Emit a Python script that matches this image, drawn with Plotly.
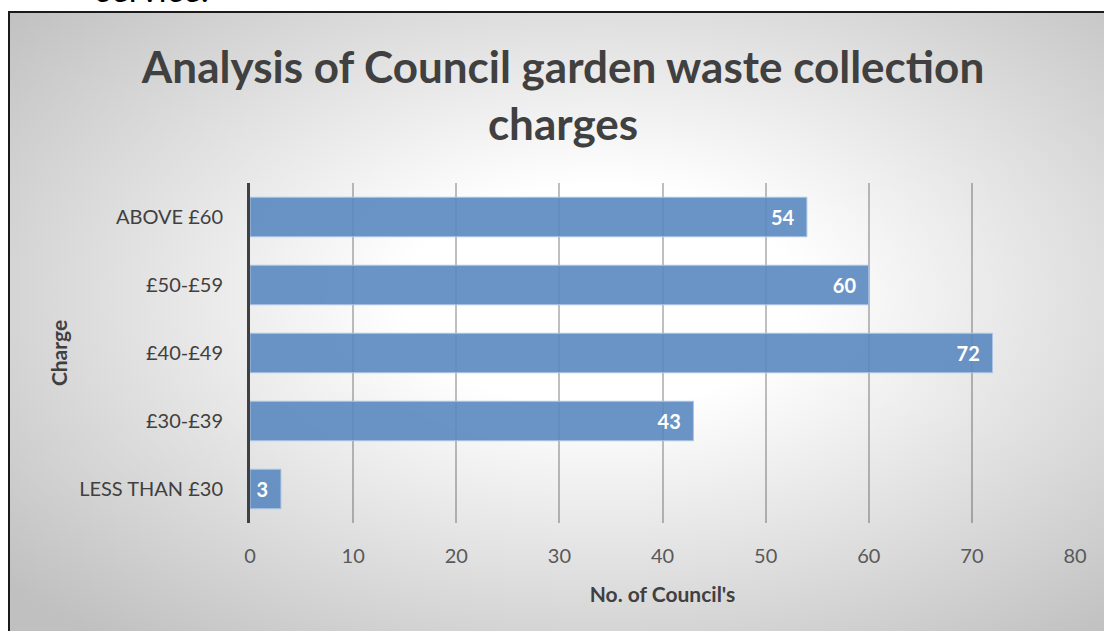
import base64
import plotly.graph_objects as go

# ---- data ----
categories = ["LESS THAN £30", "£30-£39", "£40-£49", "£50-£59", "ABOVE £60"]
councils = [3, 43, 72, 60, 54]
x_ticks = [0, 10, 20, 30, 40, 50, 60, 70, 80]

title_text = "Analysis of Council garden waste collection<br>charges"
x_title = "No. of Council's"
y_title = "Charge"

# ---- geometry (pixels) ----
W, H = 1104, 631
ML, MR, MT, MB = 250, 29, 183, 108
PW, PH = W - ML - MR, H - MT - MB


def px_x(p):
    return (p - ML) / PW


def px_y(p):
    return (H - MB - p) / PH


FONT = "Lato, 'Open Sans', sans-serif"

# radial gradient background (chart area)
box_l, box_t, box_r, box_b = 9, 12, 1125, 645
svg = f"""<svg xmlns='http://www.w3.org/2000/svg' width='{box_r-box_l}' height='{box_b-box_t}' preserveAspectRatio='none'>
<defs><radialGradient id='g' cx='0.53' cy='0.45' r='0.7' fx='0.53' fy='0.45'>
<stop offset='0' stop-color='#ffffff'/>
<stop offset='0.25' stop-color='#ffffff'/>
<stop offset='1' stop-color='#c0c0c0'/>
</radialGradient></defs>
<rect width='100%' height='100%' fill='url(#g)'/></svg>"""
src = "data:image/svg+xml;base64," + base64.b64encode(svg.encode()).decode()

fig = go.Figure()
fig.add_trace(go.Bar(
    y=categories,
    x=councils,
    orientation="h",
    marker=dict(color="rgba(91,136,192,0.9)",
                line=dict(color="rgba(170,195,228,1)", width=1)),
    texttemplate="%{x}\u00a0\u00a0",
    textposition="inside",
    insidetextanchor="end",
    textangle=0,
    textfont=dict(family=FONT, size=20, color="white", weight="bold"),
    hoverinfo="skip",
))

fig.update_layout(
    width=W, height=H,
    margin=dict(l=ML, r=MR, t=MT, b=MB, autoexpand=False),
    paper_bgcolor="white",
    plot_bgcolor="rgba(0,0,0,0)",
    bargap=0.42,
    showlegend=False,
    font=dict(family=FONT, color="#404040"),
    title=dict(
        text=title_text,
        x=px_x(563), xref="paper", xanchor="center",
        y=1 - 83 / H, yref="container", yanchor="middle",
        font=dict(family=FONT, size=44, color="#404040", weight="bold"),
    ),
    xaxis=dict(
        range=[0, 80], tickvals=x_ticks, showgrid=True,
        gridcolor="rgba(0,0,0,0.25)", gridwidth=1.5, zeroline=False,
        showline=False, ticks="", ticklabelstandoff=19,
        tickfont=dict(family=FONT, size=20, color="#595959"),
        title=dict(text=x_title, standoff=21,
                   font=dict(family=FONT, size=21, color="#404040", weight="bold")),
        fixedrange=True,
    ),
    yaxis=dict(
        categoryorder="array", categoryarray=categories,
        showline=True, linecolor="#404040", linewidth=3,
        showgrid=False, ticks="", ticklabelstandoff=20,
        tickfont=dict(family=FONT, size=20, color="#404040"),
        title=dict(text=y_title, standoff=6,
                   font=dict(family=FONT, size=21, color="#404040", weight="bold")),
        fixedrange=True,
    ),
    images=[dict(
        source=src, xref="paper", yref="paper",
        x=px_x(box_l), y=px_y(box_t),
        sizex=(box_r - box_l) / PW, sizey=(box_b - box_t) / PH,
        xanchor="left", yanchor="top", sizing="stretch", layer="below",
    )],
    shapes=[dict(
        type="rect", xref="paper", yref="paper",
        x0=px_x(box_l), x1=px_x(box_r), y0=px_y(box_b), y1=px_y(box_t),
        line=dict(color="#1a1a1a", width=2), fillcolor="rgba(0,0,0,0)",
        layer="below",
    )],
    annotations=[dict(
        text="service.", xref="paper", yref="paper",
        x=px_x(94), y=px_y(-12), xanchor="left", yanchor="middle",
        showarrow=False,
        font=dict(family=FONT, size=34, color="#000000"),
    )],
)

fig.write_html("out.html",
               config={"displayModeBar": False},
               post_script="document.body.style.margin='0';document.body.style.overflow='hidden';")
